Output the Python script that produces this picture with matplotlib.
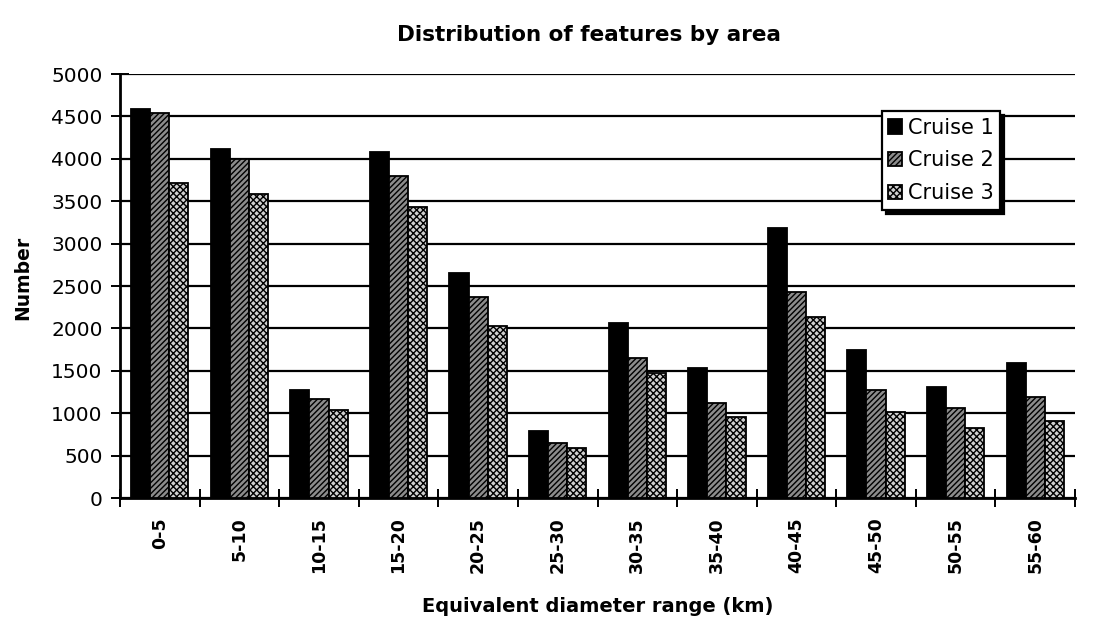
import matplotlib
matplotlib.use("Agg")
import matplotlib.pyplot as plt
import numpy as np

plt.rcParams['font.family'] = ['DejaVu Sans']
plt.rcParams['hatch.color'] = 'black'
plt.rcParams['hatch.linewidth'] = 1.0

ranges = ["0-5", "5-10", "10-15", "15-20", "20-25", "25-30",
          "30-35", "35-40", "40-45", "45-50", "50-55", "55-60"]
cruise1 = [4590, 4115, 1270, 4080, 2650, 790, 2060, 1530, 3180, 1745, 1310, 1590]
cruise2 = [4540, 4000, 1165, 3800, 2370, 650, 1650, 1120, 2430, 1275, 1060, 1190]
cruise3 = [3715, 3585, 1040, 3430, 2030, 590, 1475, 955, 2130, 1015, 825, 910]
series_names = ["Cruise 1", "Cruise 2", "Cruise 3"]

fig = plt.figure(figsize=(10.95, 6.19), dpi=100)
ax = fig.add_axes([120 / 1095, 1 - 498 / 619, 955 / 1095, 424 / 619])

x = np.arange(len(ranges))
w = 0.24
styles = [dict(facecolor='black', hatch=None),
          dict(facecolor='#8c8c8c', hatch='//////'),
          dict(facecolor='#d0d0d0', hatch='xxxxx')]
for k, (vals, name, st) in enumerate(zip([cruise1, cruise2, cruise3], series_names, styles)):
    ax.bar(x + (k - 1) * w, vals, width=w, label=name, edgecolor='black',
           linewidth=1.3, zorder=3, **st)

ax.set_xlim(-0.5, len(ranges) - 0.5)
ax.set_ylim(0, 5000)
ax.set_yticks(np.arange(0, 5001, 500))
ax.yaxis.grid(True, color='black', linewidth=1.6)
ax.set_axisbelow(True)

# ticks sit on the category boundaries, labels in the middle
ax.set_xticks(np.arange(-0.5, len(ranges) + 0.5, 1))
ax.set_xticklabels([])
ax.set_xticks(x, minor=True)
ax.set_xticklabels(ranges, minor=True, rotation=90, fontsize=12.5, fontweight='bold')
ax.tick_params(axis='x', which='minor', length=0, pad=14)
ax.tick_params(axis='x', which='major', direction='inout', length=13, width=1.4)
ax.tick_params(axis='y', direction='inout', length=13, width=1.4, labelsize=14.5, pad=6)

for s in ['top', 'right']:
    ax.spines[s].set_visible(False)
ax.spines['left'].set_linewidth(2.0)
ax.spines['bottom'].set_linewidth(2.0)

ax.set_ylabel("Number", fontsize=13.5, fontweight='bold')
ax.yaxis.set_label_coords(-0.092, 0.52)
ax.set_xlabel("Equivalent diameter range (km)", fontsize=14, fontweight='bold', labelpad=17)
fig.text(0.538, 0.944, "Distribution of features by area", ha='center', va='center',
         fontsize=15.5, fontweight='bold')

leg = ax.legend(loc='upper right', bbox_to_anchor=(0.921, 0.912), fontsize=15,
                frameon=True, fancybox=False, edgecolor='black',
                shadow={'color': 'black', 'alpha': 1, 'ox': 3, 'oy': -3},
                handlelength=0.7, handleheight=0.7, handletextpad=0.25,
                borderpad=0.3, labelspacing=0.62, borderaxespad=0)
leg.get_frame().set_linewidth(1.6)

fig.savefig("out.png", dpi=100)
